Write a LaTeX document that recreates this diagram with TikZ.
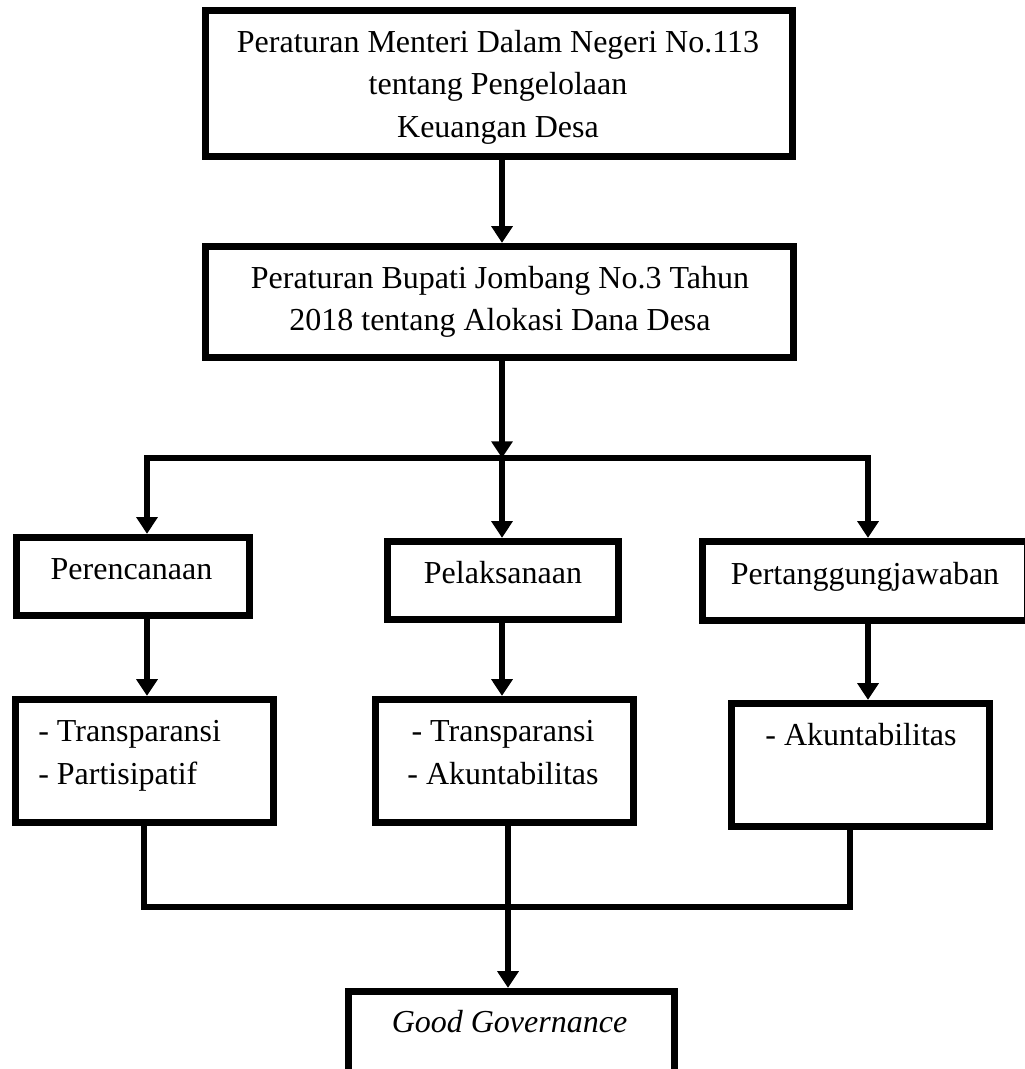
\documentclass[tikz,border=0pt]{standalone}
\usepackage{fontspec}
\setmainfont{Liberation Serif}
\usetikzlibrary{arrows.meta}

\begin{document}
\begin{tikzpicture}[x=0.75pt, y=-0.75pt,
    box/.style={draw, line width=5.1pt, inner sep=0pt},
    txt/.style={inner sep=0pt, font=\fontsize{24}{32}\selectfont},
    link/.style={line width=3.9pt},
    arr/.style={link, -{Triangle[width=15.5pt, length=12.5pt]}}]
    \useasboundingbox (0,0) rectangle (1024,1069);
    % boxes
    \node[box, minimum width=440.6pt, minimum height=109.9pt] (law) at (499,83.5) {};
    \node[box, minimum width=441.4pt, minimum height=83.6pt] (reg) at (499.5,302) {};
    \node[box, minimum width=175.1pt, minimum height=58.9pt] (plan) at (133,576.5) {};
    \node[box, minimum width=173.6pt, minimum height=58.9pt] (exec) at (503,580.5) {};
    \node[box, minimum width=244.1pt, minimum height=59.6pt] (resp) at (865,581) {};
    \node[box, minimum width=193.9pt, minimum height=92.6pt] (planp) at (144.5,761) {};
    \node[box, minimum width=193.9pt, minimum height=92.6pt] (execp) at (504.5,761) {};
    \node[box, minimum width=193.9pt, minimum height=92.6pt] (respp) at (860.5,765) {};
    \node[box, minimum width=244.9pt, minimum height=71.6pt] (good) at (511.5,1039) {};
    % texts
    \node[txt, align=center] (law-txt) at (498,87.2) {Peraturan Menteri Dalam Negeri No.113\\ tentang Pengelolaan\\ Keuangan Desa};
    \node[txt, align=center] (reg-txt) at (500,301.9) {Peraturan Bupati Jombang No.3 Tahun\\ 2018 tentang Alokasi Dana Desa};
    \node[txt, anchor=base] (plan-txt) at (131.5,579) {Perencanaan};
    \node[txt, anchor=base] (exec-txt) at (503,583) {Pelaksanaan};
    \node[txt, anchor=base] (resp-txt) at (865,584) {Pertanggungjawaban};
    \node[txt, align=left, anchor=west] (planp-txt) at (38,756) {- Transparansi\\ - Partisipatif};
    \node[txt, align=center] (execp-txt) at (503,752.4) {- Transparansi\\ - Akuntabilitas};
    \node[txt, anchor=base] (respp-txt) at (861,745) {- Akuntabilitas};
    \node[txt, anchor=base, font=\fontsize{24}{32}\selectfont\itshape] (good-txt) at (509.5,1032) {Good Governance};
    % connectors
    \coordinate (barL) at (147,458);
    \coordinate (barM) at (502,458);
    \coordinate (barR) at (868,458);
    \coordinate (joinL) at (144,907);
    \coordinate (joinM) at (508,907);
    \coordinate (joinR) at (850,907);
    \draw[arr] (law.south -| barM) -- (reg.north -| barM);
    \draw[arr] (reg.south -| barM) -- (barM);
    \draw[arr] (barM) -| (barL |- plan.north);
    \draw[arr] (barM) -| (barR |- resp.north);
    \draw[arr] (barM) -- (barM |- exec.north);
    \draw[arr] (plan.south -| barL) -- (planp.north -| barL);
    \draw[arr] (exec.south -| barM) -- (execp.north -| barM);
    \draw[arr] (resp.south -| barR) -- (respp.north -| barR);
    \draw[link] (planp.south -| joinL) -- (joinL) -- (joinR) -- (respp.south -| joinR);
    \draw[link] (execp.south -| joinM) -- (joinM);
    \draw[arr] (joinM) -- (good.north -| joinM);
\end{tikzpicture}
\end{document}
